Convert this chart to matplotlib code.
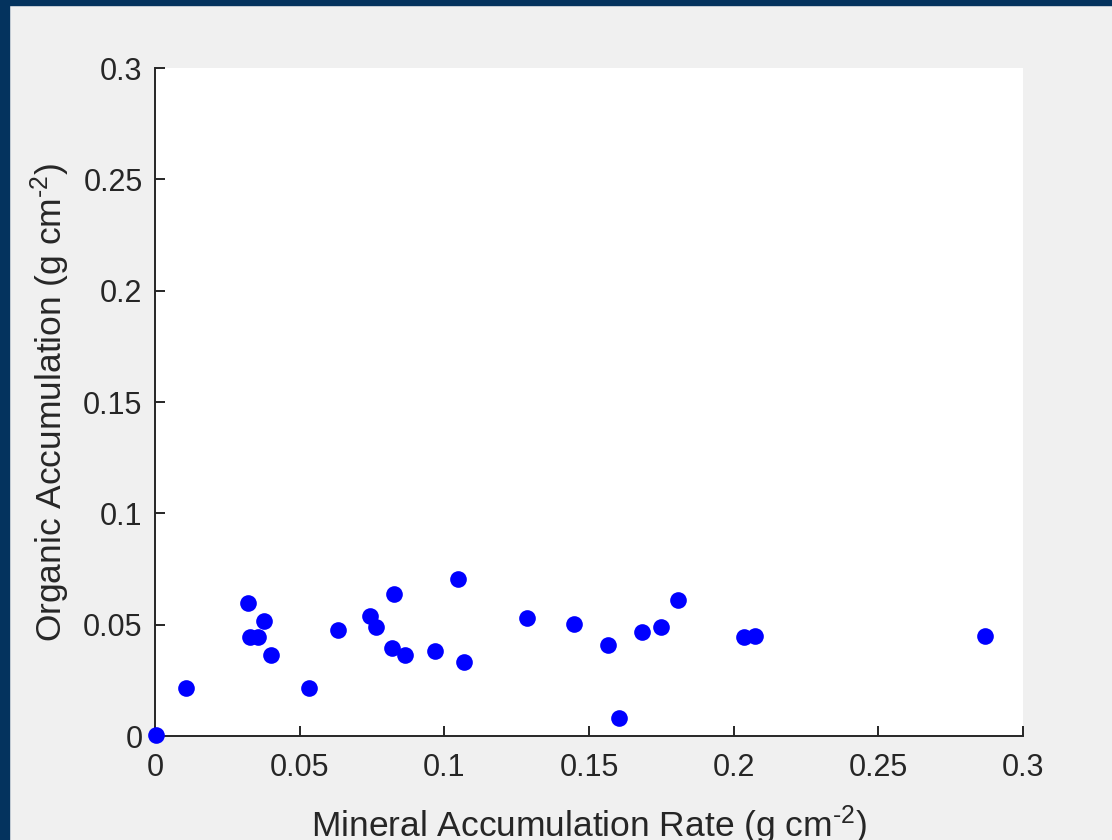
import matplotlib
matplotlib.use("Agg")
import matplotlib.pyplot as plt
from matplotlib.patches import Rectangle

# mineral vs organic accumulation
mineral_rate = [0.0003, 0.0107, 0.0323, 0.0328, 0.0357, 0.0378, 0.0400, 0.0532,
                0.0631, 0.0742, 0.0764, 0.0825, 0.0819, 0.0864, 0.0968, 0.1046,
                0.1068, 0.1285, 0.1448, 0.1566, 0.1604, 0.1682, 0.1748, 0.1809,
                0.2035, 0.2074, 0.2869]
organic_acc = [0.0006, 0.0216, 0.0596, 0.0445, 0.0445, 0.0516, 0.0365, 0.0216,
               0.0475, 0.0539, 0.0488, 0.0638, 0.0394, 0.0365, 0.0380, 0.0704,
               0.0331, 0.0530, 0.0503, 0.0407, 0.0081, 0.0467, 0.0488, 0.0609,
               0.0445, 0.0450, 0.0450]
ticks = [0, 0.05, 0.1, 0.15, 0.2, 0.25, 0.3]
tick_labels = ['0', '0.05', '0.1', '0.15', '0.2', '0.25', '0.3']

plt.rcParams['font.family'] = ['Liberation Sans', 'DejaVu Sans']
plt.rcParams['mathtext.fontset'] = 'custom'
plt.rcParams['mathtext.rm'] = 'Liberation Sans'
plt.rcParams['mathtext.it'] = 'Liberation Sans'
plt.rcParams['mathtext.default'] = 'regular'

txt = '#262626'

fig = plt.figure(figsize=(11.12, 8.4), dpi=100, facecolor='#f0f0f0')
ax = fig.add_axes([0.1394, 0.1238, 0.7806, 0.7952])
ax.set_facecolor('white')

ax.plot(mineral_rate, organic_acc, 'o', color='#0000ff', markersize=12,
        markeredgewidth=0, clip_on=False, zorder=5)

ax.set_xlim(0, 0.3)
ax.set_ylim(0, 0.3)
ax.set_xticks(ticks)
ax.set_xticklabels(tick_labels)
ax.set_yticks(ticks)
ax.set_yticklabels(tick_labels)

for s in ['top', 'right']:
    ax.spines[s].set_visible(False)
for s in ['left', 'bottom']:
    ax.spines[s].set_linewidth(1.4)
    ax.spines[s].set_color(txt)

ax.tick_params(direction='in', length=7, width=1.4, color=txt,
               labelsize=22, labelcolor=txt)
ax.tick_params(axis='x', pad=12)
ax.tick_params(axis='y', pad=9)

ax.set_xlabel('Mineral Accumulation Rate (g cm$^{\u2010 2}$)', fontsize=25.5,
              color=txt, labelpad=15)
ax.set_ylabel('Organic Accumulation (g cm$^{\u2010 2}$)', fontsize=25.5,
              color=txt, labelpad=8)

# dark frame strips on top and left edge
border = '#04335e'
fig.patches.append(Rectangle((0, 1 - 5 / 840), 1, 5 / 840, transform=fig.transFigure,
                             color=border, zorder=10))
fig.patches.append(Rectangle((0, 0), 9 / 1112, 1, transform=fig.transFigure,
                             color=border, zorder=10))

fig.savefig('out.png', dpi=100, facecolor=fig.get_facecolor())
